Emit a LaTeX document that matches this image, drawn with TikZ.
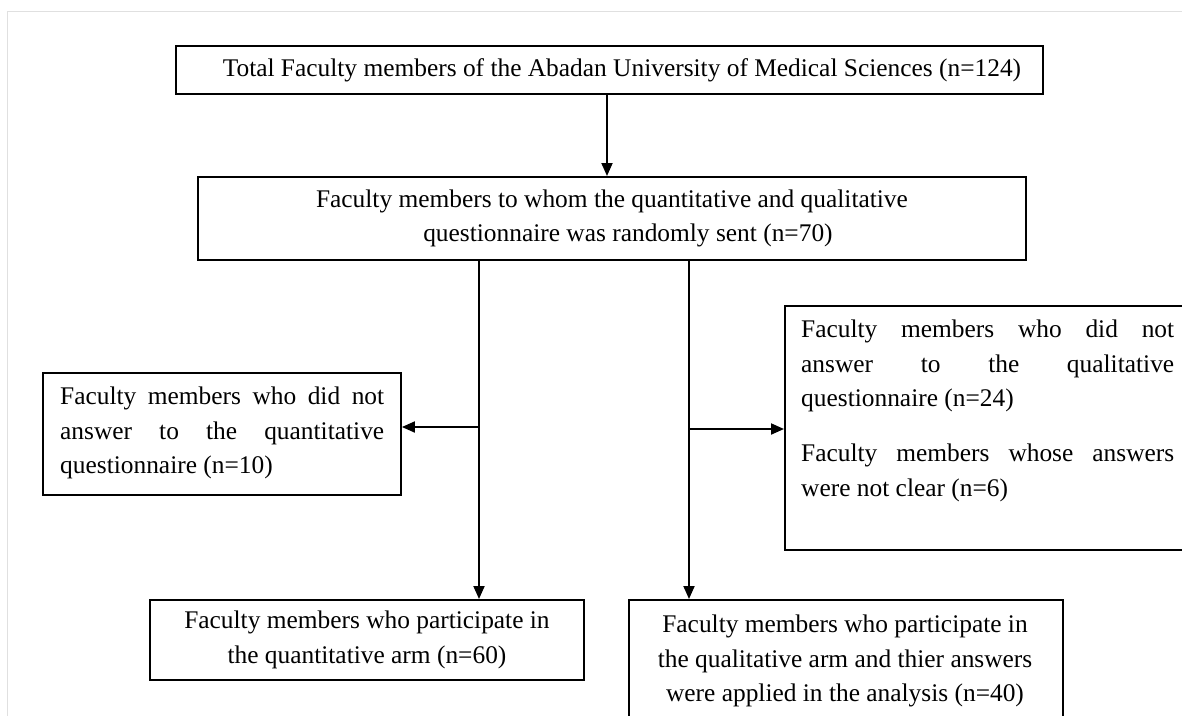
\documentclass[tikz,border=0pt]{standalone}
\usepackage{fontspec}
\setmainfont{Liberation Serif}
\usetikzlibrary{arrows.meta}
\newcommand\bodyfont{\fontsize{25.4pt}{34.5pt}\selectfont}
\tikzset{
  box/.style={draw, line width=1.9pt, inner sep=0pt, anchor=north west},
  txt/.style={inner sep=0pt, font=\bodyfont},
  arr/.style={line width=1.9pt, -{Triangle[length=13pt,width=11pt]}},
}
\begin{document}
\begin{tikzpicture}[x=1pt,y=-1pt]
\useasboundingbox (0,0) rectangle (1182,715);
\fill[white] (0,0) rectangle (1182,715);
\clip (0,0) rectangle (1182,715);
\draw[black!12, line width=1pt] (7,716) -- (7,11) -- (1183,11);

% boxes
\node[box, minimum width=867pt, minimum height=48pt, font=\bodyfont] (b1) at (175,45)
  {\hspace*{25pt}Total Faculty members of the Abadan University of Medical Sciences (n=124)};
\node[box, minimum width=828pt, minimum height=83pt, font=\bodyfont, align=center] (b2) at (197,176)
  {Faculty members to whom the quantitative and qualitative\\\hspace*{32pt}questionnaire was randomly sent (n=70)};
\node[box, minimum width=358pt, minimum height=122pt] (lbox) at (42,372) {};
\node[box, minimum width=440pt, minimum height=244pt] (rbox) at (784,305) {};
\node[box, minimum width=434pt, minimum height=80pt, font=\bodyfont, align=center] (b3) at (149,599)
  {Faculty members who participate in\\the quantitative arm (n=60)};
\node[box, minimum width=434pt, minimum height=140pt] (b4) at (628,599) {};

% texts inside boxes
\node[txt, anchor=north west, text width=324pt, align=justify] (tl) at (60,387)
  {\noindent Faculty members who did not\linebreak answer to the quantitative\linebreak questionnaire (n=10)};
\node[txt, anchor=north west, text width=373pt, align=justify] (tr) at (801,320)
  {\noindent Faculty members who did not\linebreak answer to the qualitative\linebreak questionnaire (n=24)\\[20.5pt]Faculty members whose answers\linebreak were not clear (n=6)};
\node[txt, anchor=north, align=center] (tb4) at (845,615)
  {Faculty members who participate in\\the qualitative arm and thier answers\\were applied in the analysis (n=40)};

% connectors
\coordinate (cT) at (607,0);
\coordinate (cL) at (479,0);
\coordinate (cR) at (689,0);
\coordinate (jL) at (479,427);
\coordinate (jR) at (690,429);
\draw[arr] (b1.south -| cT) -- (b2.north -| cT);
\draw[arr] (b2.south -| cL) -- (b3.north -| cL);
\draw[arr] (b2.south -| cR) -- (b4.north -| cR);
\draw[arr] (jL) -- (jL -| lbox.east);
\draw[arr] (jR) -- (jR -| rbox.west);
\end{tikzpicture}
\end{document}
